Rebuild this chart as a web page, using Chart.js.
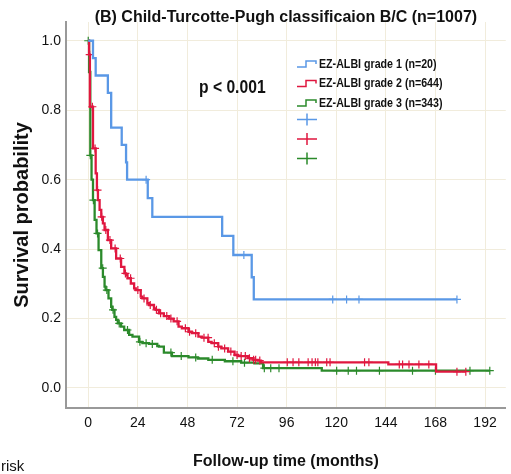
<!DOCTYPE html>
<html>
<head>
<meta charset="utf-8">
<script src="https://cdn.jsdelivr.net/npm/chart.js@4.4.1/dist/chart.umd.min.js"></script>
<style>
  html, body { margin: 0; padding: 0; background: #fff; }
</style>
</head>
<body>
<canvas id="kmChart" width="511" height="474"></canvas>
<script>
// Kaplan-Meier readings (months, survival probability)
const grade1Time = [0, 2.3, 3.6, 9.5, 11.1, 16.2, 18.3, 18.8, 28.8, 31, 64.8, 70.2, 79.1, 80.1, 178.4];
const grade1Surv = [1.0, 0.95, 0.90, 0.85, 0.75, 0.70, 0.65, 0.60, 0.547, 0.493, 0.438, 0.383, 0.319, 0.255, 0.255];
const grade1Censor = [28.0, 75.3, 118.3, 125, 131, 178.4];

const grade2Time = [0, 0.4, 0.8, 2.3, 3.6, 4.2, 4.7, 5.5, 6.3, 7.1, 7.9, 9.5, 11.1, 13.5, 15.9, 17.5, 18.3, 19.0, 20.6, 22.2, 23.0, 25.4, 26.2, 28.6, 29.4,
  31.8, 32.6, 34.2, 36.6, 39.0, 41.3, 43.7, 45.3, 48.5, 50.1, 53.3, 55.0, 58.1, 59.7, 62.9, 64.4, 67.7, 70.8, 72.4, 77.2, 80.0, 82.0, 83.6, 145.2, 168.3, 182.7];
const grade2Surv = [1.0, 0.96, 0.81, 0.69, 0.618, 0.570, 0.541, 0.513, 0.493, 0.474, 0.455, 0.426, 0.402, 0.373, 0.349, 0.330, 0.325, 0.316, 0.301, 0.287, 0.282, 0.263, 0.258, 0.244, 0.239,
  0.229, 0.225, 0.215, 0.207, 0.200, 0.192, 0.177, 0.172, 0.162, 0.158, 0.148, 0.145, 0.133, 0.129, 0.119, 0.114, 0.105, 0.095, 0.092, 0.086, 0.081, 0.079, 0.074, 0.068, 0.047, 0.047];
const grade2Censor = [0.7, 2.0, 3.3, 4.5, 6.5, 8.5, 10.5, 13, 15.5, 18, 20.5, 24, 27, 30, 33, 35, 38, 40, 43, 47, 49, 52, 56, 58, 61, 63, 66, 69, 72, 74, 76, 78, 80, 81, 83,
  96.3, 99.1, 101.9, 106.4, 108.3, 109.9, 111.1, 115.4, 117, 133.7, 135.8, 150.5, 152.1, 155.2, 160, 164.8, 178.4, 182.7];

const grade3Time = [0, 0.4, 1.0, 1.6, 2.3, 3.1, 4.0, 5.0, 6.3, 7.1, 7.9, 8.4, 9.8, 11.1, 11.6, 12.7, 13.5, 14.3, 15.9, 17.4, 19.8, 21.4, 24.6, 26.2, 29.4,
  33.4, 34.2, 36.6, 40.5, 48.5, 53.0, 58.1, 66.1, 74.0, 80.4, 84.6, 113, 194.3];
const grade3Surv = [1.0, 0.91, 0.67, 0.60, 0.541, 0.484, 0.445, 0.397, 0.345, 0.320, 0.292, 0.282, 0.258, 0.234, 0.225, 0.205, 0.196, 0.186, 0.177, 0.167, 0.153, 0.148, 0.133, 0.129, 0.127,
  0.121, 0.119, 0.102, 0.092, 0.088, 0.085, 0.081, 0.077, 0.073, 0.071, 0.057, 0.050, 0.050];
const grade3Censor = [0, 1.0, 2.5, 4.5, 7, 9, 12, 15, 19, 25, 28, 31, 40, 45, 52, 60, 70, 75.6, 85.2, 88.3, 92.3, 120.2, 125.8, 129.8, 140.9, 156.9, 168, 184.7, 194.3];

const groupLabels = ['EZ-ALBI grade 1 (n=20)', 'EZ-ALBI grade 2 (n=644)', 'EZ-ALBI grade 3 (n=343)'];
const xTicks = [0, 24, 48, 72, 96, 120, 144, 168, 192];
const yTicks = [0.0, 0.2, 0.4, 0.6, 0.8, 1.0];
const pText = 'p < 0.001';

const colors = ['#5a98e6', '#e0173f', '#2b8a2b'];
const sans = '"Liberation Sans", Arial, sans-serif';

function survAt(times, surv, t) {
  let s = surv[0];
  for (let i = 0; i < times.length; i++) {
    if (times[i] <= t) s = surv[i];
  }
  return s;
}

function kmLine(label, times, surv, color, order) {
  return {
    type: 'line',
    label: label,
    data: times.map((t, i) => ({ x: t, y: surv[i] })),
    borderColor: color,
    borderWidth: 2.3,
    stepped: true,
    pointRadius: 0,
    fill: false,
    order: order
  };
}

function censorMarks(label, times, surv, cens, color, order) {
  return {
    type: 'scatter',
    label: label + ' censored',
    data: cens.map(t => ({ x: t, y: survAt(times, surv, t) })),
    pointStyle: 'cross',
    pointRadius: 4,
    pointHoverRadius: 4,
    borderColor: color,
    borderWidth: 1.2,
    order: order
  };
}

// squeezed text, the picture uses a narrow face
function narrowText(ctx, text, x, y, sx) {
  ctx.save();
  ctx.translate(x, y);
  ctx.scale(sx, 1);
  ctx.fillText(text, 0, 0);
  ctx.restore();
}

// p value, legend and the stray "risk" text
const overlay = {
  id: 'overlay',
  afterDraw(chart) {
    const ctx = chart.ctx;
    ctx.save();
    ctx.fillStyle = '#111';
    ctx.textBaseline = 'middle';
    ctx.textAlign = 'left';
    ctx.font = 'bold 18px ' + sans;
    narrowText(ctx, pText, 199, 88, 0.87);

    ctx.font = 'bold 13px ' + sans;
    ctx.lineWidth = 1.5;
    for (let i = 0; i < 3; i++) {
      const y = 64 + i * 19.5;
      ctx.strokeStyle = colors[i];
      ctx.beginPath();
      ctx.moveTo(297, y + 3);
      ctx.lineTo(306, y + 3);
      ctx.lineTo(306, y - 3);
      ctx.lineTo(316, y - 3);
      ctx.lineTo(316, y);
      ctx.stroke();
      narrowText(ctx, groupLabels[i], 319, y, 0.82);
    }
    for (let i = 0; i < 3; i++) {
      const y = 119.5 + i * 19.5;
      ctx.strokeStyle = colors[i];
      ctx.beginPath();
      ctx.moveTo(297, y);
      ctx.lineTo(317, y);
      ctx.moveTo(307, y - 6);
      ctx.lineTo(307, y + 6);
      ctx.stroke();
    }

    ctx.font = '15px ' + sans;
    ctx.fillText('risk', 1, 467);
    ctx.restore();
  }
};

const ctx = document.getElementById('kmChart').getContext('2d');
const kmChart = new Chart(ctx, {
  data: {
    datasets: [
      kmLine(groupLabels[0], grade1Time, grade1Surv, colors[0], 1),
      kmLine(groupLabels[1], grade2Time, grade2Surv, colors[1], 2),
      kmLine(groupLabels[2], grade3Time, grade3Surv, colors[2], 3),
      censorMarks(groupLabels[0], grade1Time, grade1Surv, grade1Censor, colors[0], 1),
      censorMarks(groupLabels[1], grade2Time, grade2Surv, grade2Censor, colors[1], 2),
      censorMarks(groupLabels[2], grade3Time, grade3Surv, grade3Censor, colors[2], 3)
    ]
  },
  options: {
    responsive: false,
    animation: false,
    devicePixelRatio: 1,
    layout: { padding: 0 },
    plugins: {
      legend: { display: false },
      tooltip: { enabled: false },
      title: {
        display: true,
        fullSize: false,
        text: '(B) Child-Turcotte-Pugh classificaion B/C (n=1007)',
        color: '#111',
        font: { family: sans, size: 16, weight: 'bold', lineHeight: 1 },
        padding: { top: 10, bottom: -4 }
      }
    },
    scales: {
      x: {
        type: 'linear',
        min: -10.76,
        max: 202.04,
        afterBuildTicks: s => { s.ticks = xTicks.map(v => ({ value: v })); },
        afterFit: s => { s.height = 66; },
        grid: { color: '#f1ecdc', lineWidth: 1, drawTicks: false },
        border: { color: '#999', width: 2 },
        ticks: { color: '#111', padding: 7, maxRotation: 0, font: { family: sans, size: 14 } },
        title: {
          display: true,
          text: 'Follow-up time (months)',
          color: '#111',
          font: { family: sans, size: 16, weight: 'bold' },
          padding: { top: 0, bottom: 3 }
        }
      },
      y: {
        type: 'linear',
        min: -0.0576,
        max: 1.054,
        afterBuildTicks: s => { s.ticks = yTicks.map(v => ({ value: v })); },
        afterFit: s => { s.width = 66; },
        grid: { color: '#f1ecdc', lineWidth: 1, drawTicks: false },
        border: { color: '#999', width: 2 },
        ticks: { color: '#111', padding: 5, font: { family: sans, size: 14 }, callback: v => v.toFixed(1) },
        title: {
          display: true,
          text: 'Survival probability',
          color: '#111',
          font: { family: sans, size: 20, weight: 'bold' },
          padding: { top: 10, bottom: 0 }
        }
      }
    }
  },
  plugins: [overlay]
});
</script>
</body>
</html>
